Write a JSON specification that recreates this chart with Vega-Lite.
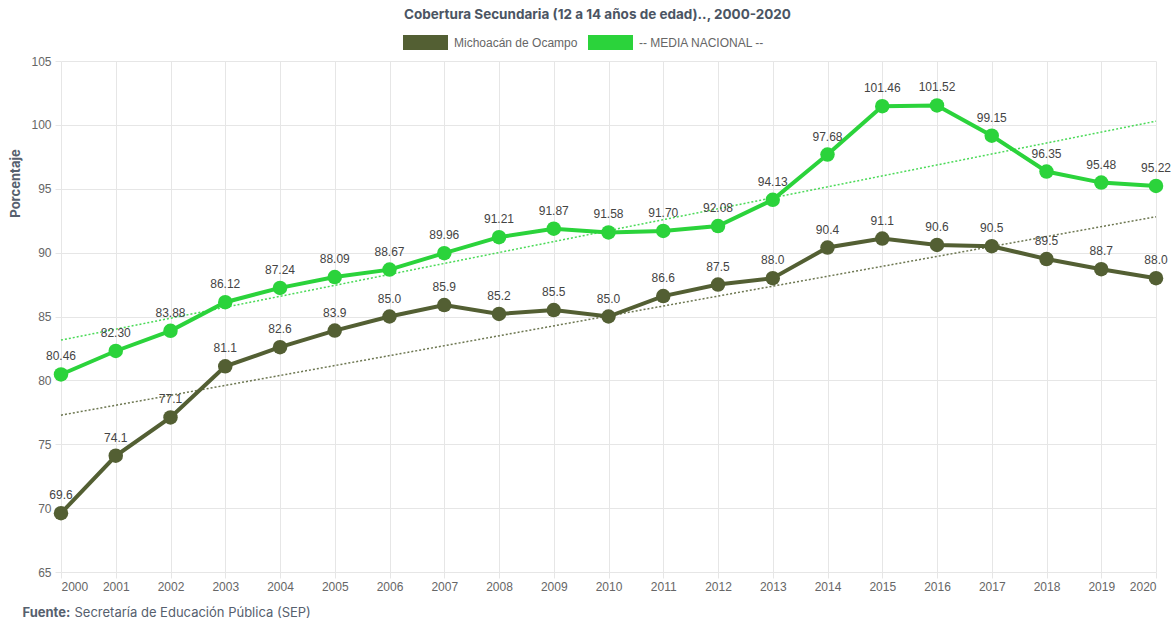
{
  "$schema": "https://vega.github.io/schema/vega-lite/v6.json",
  "width": 1095,
  "height": 511,
  "autosize": {"type": "none"},
  "padding": {"left": 61, "top": 61, "right": 16, "bottom": 50},
  "background": "white",
  "title": {
    "text": "Cobertura Secundaria (12 a 14 años de edad).., 2000-2020",
    "font": "Inter",
    "fontSize": 13.5,
    "fontWeight": "bold",
    "color": "#4b5563",
    "anchor": "middle",
    "offset": 5,
    "dx": -11,
    "dy": 6
  },
  "config": {
    "view": {"stroke": null},
    "axis": {
      "labelFont": "Liberation Sans",
      "labelFontSize": 12,
      "labelColor": "#666666",
      "gridColor": "#e6e6e6",
      "tickColor": "#e6e6e6",
      "domain": false
    }
  },
  "data": {
    "values": [
      {"year": 2000, "serie": "Michoacán de Ocampo", "value": 69.6},
      {"year": 2001, "serie": "Michoacán de Ocampo", "value": 74.1},
      {"year": 2002, "serie": "Michoacán de Ocampo", "value": 77.1},
      {"year": 2003, "serie": "Michoacán de Ocampo", "value": 81.1},
      {"year": 2004, "serie": "Michoacán de Ocampo", "value": 82.6},
      {"year": 2005, "serie": "Michoacán de Ocampo", "value": 83.9},
      {"year": 2006, "serie": "Michoacán de Ocampo", "value": 85.0},
      {"year": 2007, "serie": "Michoacán de Ocampo", "value": 85.9},
      {"year": 2008, "serie": "Michoacán de Ocampo", "value": 85.2},
      {"year": 2009, "serie": "Michoacán de Ocampo", "value": 85.5},
      {"year": 2010, "serie": "Michoacán de Ocampo", "value": 85.0},
      {"year": 2011, "serie": "Michoacán de Ocampo", "value": 86.6},
      {"year": 2012, "serie": "Michoacán de Ocampo", "value": 87.5},
      {"year": 2013, "serie": "Michoacán de Ocampo", "value": 88.0},
      {"year": 2014, "serie": "Michoacán de Ocampo", "value": 90.4},
      {"year": 2015, "serie": "Michoacán de Ocampo", "value": 91.1},
      {"year": 2016, "serie": "Michoacán de Ocampo", "value": 90.6},
      {"year": 2017, "serie": "Michoacán de Ocampo", "value": 90.5},
      {"year": 2018, "serie": "Michoacán de Ocampo", "value": 89.5},
      {"year": 2019, "serie": "Michoacán de Ocampo", "value": 88.7},
      {"year": 2020, "serie": "Michoacán de Ocampo", "value": 88.0},
      {"year": 2000, "serie": "-- MEDIA NACIONAL --", "value": 80.46},
      {"year": 2001, "serie": "-- MEDIA NACIONAL --", "value": 82.30},
      {"year": 2002, "serie": "-- MEDIA NACIONAL --", "value": 83.88},
      {"year": 2003, "serie": "-- MEDIA NACIONAL --", "value": 86.12},
      {"year": 2004, "serie": "-- MEDIA NACIONAL --", "value": 87.24},
      {"year": 2005, "serie": "-- MEDIA NACIONAL --", "value": 88.09},
      {"year": 2006, "serie": "-- MEDIA NACIONAL --", "value": 88.67},
      {"year": 2007, "serie": "-- MEDIA NACIONAL --", "value": 89.96},
      {"year": 2008, "serie": "-- MEDIA NACIONAL --", "value": 91.21},
      {"year": 2009, "serie": "-- MEDIA NACIONAL --", "value": 91.87},
      {"year": 2010, "serie": "-- MEDIA NACIONAL --", "value": 91.58},
      {"year": 2011, "serie": "-- MEDIA NACIONAL --", "value": 91.70},
      {"year": 2012, "serie": "-- MEDIA NACIONAL --", "value": 92.08},
      {"year": 2013, "serie": "-- MEDIA NACIONAL --", "value": 94.13},
      {"year": 2014, "serie": "-- MEDIA NACIONAL --", "value": 97.68},
      {"year": 2015, "serie": "-- MEDIA NACIONAL --", "value": 101.46},
      {"year": 2016, "serie": "-- MEDIA NACIONAL --", "value": 101.52},
      {"year": 2017, "serie": "-- MEDIA NACIONAL --", "value": 99.15},
      {"year": 2018, "serie": "-- MEDIA NACIONAL --", "value": 96.35},
      {"year": 2019, "serie": "-- MEDIA NACIONAL --", "value": 95.48},
      {"year": 2020, "serie": "-- MEDIA NACIONAL --", "value": 95.22}
    ]
  },
  "resolve": {"axis": {"y": "independent"}},
  "layer": [
    {
      "mark": {"type": "line", "strokeWidth": 4},
      "encoding": {
        "x": {
          "field": "year", "type": "quantitative",
          "scale": {"domain": [2000, 2020], "nice": false, "zero": false},
          "axis": {
            "values": [2000,2001,2002,2003,2004,2005,2006,2007,2008,2009,2010,2011,2012,2013,2014,2015,2016,2017,2018,2019,2020],
            "format": "d",
            "grid": true,
            "tickSize": 6,
            "labelPadding": 3,
            "title": "Fuente:",
            "titleFont": "Inter",
            "titleFontSize": 13,
            "titleFontWeight": "bold",
            "titleColor": "#56606e",
            "titleAnchor": "start",
            "titleAlign": "left",
            "titleBaseline": "middle",
            "titleX": -39,
            "titleY": 40
          }
        },
        "y": {
          "field": "value", "type": "quantitative",
          "scale": {"domain": [65, 105], "nice": false, "zero": false},
          "axis": {
            "orient": "left",
            "values": [65, 70, 75, 80, 85, 90, 95, 100, 105],
            "grid": true,
            "tickSize": 6,
            "labelPadding": 4,
            "title": "Porcentaje",
            "titleFont": "Inter",
            "titleFontSize": 13,
            "titleFontWeight": "bold",
            "titleColor": "#56606e",
            "titleAngle": -90,
            "titleAlign": "center",
            "titleBaseline": "middle",
            "titleX": -46,
            "titleY": 122
          }
        },
        "color": {
          "field": "serie", "type": "nominal",
          "scale": {"domain": ["Michoacán de Ocampo", "-- MEDIA NACIONAL --"], "range": ["#535f33", "#2bd33b"]},
          "legend": {
            "orient": "none",
            "legendX": 342,
            "legendY": -41,
            "direction": "horizontal",
            "title": null,
            "symbolType": "M-1,-0.33H1V0.33H-1Z",
            "symbolSize": 2025,
            "symbolStrokeWidth": 0,
            "symbolOpacity": 1,
            "labelFont": "Liberation Sans",
            "labelFontSize": 12,
            "labelColor": "#666666",
            "labelOffset": 6,
            "columnPadding": 10,
            "encode": {
              "symbols": {
                "update": {
                  "fill": {"scale": "color", "field": "value"},
                  "fillOpacity": {"value": 1},
                  "strokeWidth": {"value": 0}
                }
              }
            }
          }
        }
      }
    },
    {
      "transform": [
        {"regression": "value", "on": "year", "groupby": ["serie"], "method": "linear", "extent": [2000, 2020]}
      ],
      "mark": {"type": "line", "strokeWidth": 1.5, "strokeDash": [2, 2], "opacity": 0.85},
      "encoding": {
        "x": {"field": "year", "type": "quantitative"},
        "y": {
          "field": "value", "type": "quantitative",
          "scale": {"domain": [65, 105], "nice": false, "zero": false},
          "axis": {
            "orient": "right",
            "labels": false,
            "ticks": false,
            "grid": false,
            "domain": false,
            "title": "Secretaría de Educación Pública (SEP)",
            "titleFont": "Inter",
            "titleFontSize": 13,
            "titleFontWeight": "normal",
            "titleColor": "#56606e",
            "titleAngle": 0,
            "titleAlign": "left",
            "titleBaseline": "middle",
            "titleX": -1082,
            "titleY": 551
          }
        },
        "color": {"field": "serie", "type": "nominal"}
      }
    },
    {
      "mark": {"type": "point", "filled": true, "size": 210, "opacity": 1},
      "encoding": {
        "x": {"field": "year", "type": "quantitative"},
        "y": {"field": "value", "type": "quantitative", "scale": {"domain": [65, 105], "nice": false, "zero": false}, "axis": null},
        "color": {"field": "serie", "type": "nominal"}
      }
    },
    {
      "transform": [{"filter": "datum.serie === 'Michoacán de Ocampo'"}],
      "mark": {"type": "text", "baseline": "bottom", "dy": -11, "font": "Liberation Sans", "fontSize": 12, "color": "#444444"},
      "encoding": {
        "x": {"field": "year", "type": "quantitative"},
        "y": {"field": "value", "type": "quantitative", "scale": {"domain": [65, 105], "nice": false, "zero": false}, "axis": null},
        "text": {"field": "value", "type": "quantitative", "format": ".1f"}
      }
    },
    {
      "transform": [{"filter": "datum.serie === '-- MEDIA NACIONAL --'"}],
      "mark": {"type": "text", "baseline": "bottom", "dy": -11, "font": "Liberation Sans", "fontSize": 12, "color": "#444444"},
      "encoding": {
        "x": {"field": "year", "type": "quantitative"},
        "y": {"field": "value", "type": "quantitative", "scale": {"domain": [65, 105], "nice": false, "zero": false}, "axis": null},
        "text": {"field": "value", "type": "quantitative", "format": ".2f"}
      }
    }
  ]
}
